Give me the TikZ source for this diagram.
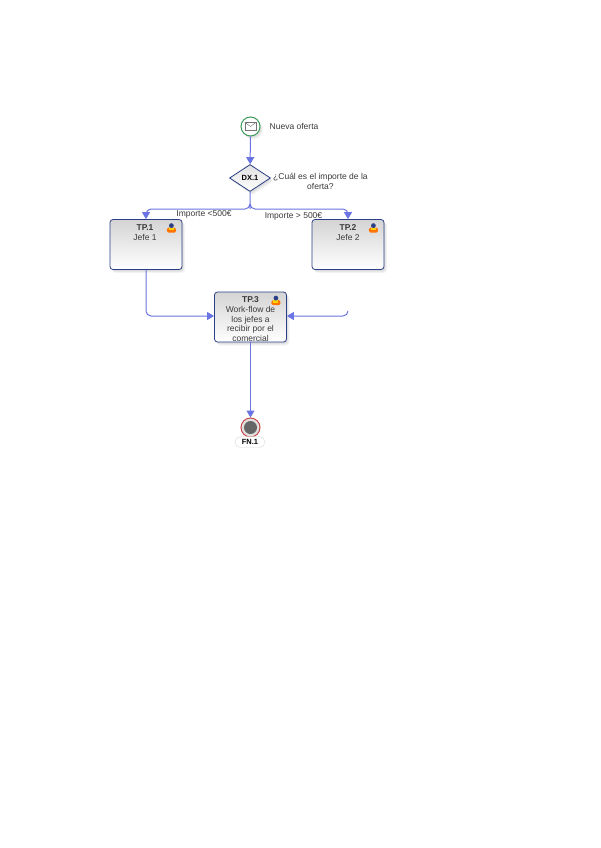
\documentclass[tikz,border=0pt]{standalone}
\usepackage{fontspec}
\setmainfont{Liberation Sans}
\usetikzlibrary{arrows.meta,positioning,shapes.geometric,calc,shadows,shadows.blur}
\definecolor{flowline}{HTML}{6A74E2}
\definecolor{boxedge}{HTML}{2B3F86}
\definecolor{boxtop}{HTML}{D4D4D4}
\definecolor{txtgray}{HTML}{3A3A3A}
\definecolor{startgreen}{HTML}{3A9A58}
\definecolor{endred}{HTML}{C84848}
\tikzset{
  softshadow/.style={
    general shadow={fill=black, opacity=0.05, shadow xshift=1pt, shadow yshift=-1.5pt},
    general shadow={fill=black, opacity=0.05, shadow xshift=2pt, shadow yshift=-2.5pt},
    general shadow={fill=black, opacity=0.04, shadow xshift=3pt, shadow yshift=-3.5pt}
  },
  taskbox/.style={
    rectangle, rounded corners=3pt, draw=boxedge, thick,
    top color=boxtop, bottom color=white, softshadow,
    minimum width=#1, minimum height=50pt, inner sep=0pt
  },
  taskbox/.default=72pt,
  tasktext/.style={
    font=\fontsize{8.5}{9.9}\selectfont, text=txtgray, align=center, inner sep=0pt
  },
  flowarrow/.style={
    -{Triangle[length=7pt,width=8pt]}, line width=1pt, color=flowline,
    rounded corners=5pt
  },
  labelnode/.style={
    font=\fontsize{8.5}{10}\selectfont, text=txtgray, align=center, inner sep=0pt
  },
  startevent/.style={
    circle, draw=startgreen, line width=1pt, fill=white, minimum size=19pt,
    inner sep=0pt, softshadow
  },
  endevent/.style={
    circle, draw=endred, line width=1pt, fill=black!12, minimum size=19pt,
    inner sep=0pt
  },
  decision/.style={
    diamond, aspect=1.5, draw=boxedge, thick, top color=boxtop!70, bottom color=white,
    minimum width=41pt, minimum height=27pt, inner sep=0pt,
    font=\fontsize{7.5}{9}\selectfont\bfseries, softshadow
  },
}
% small person mark in the corner of a task
\newcommand{\personmark}[1]{
  \fill[orange!90!red, rounded corners=1.5pt] ($(#1)+(-4.5,-0.5)$) rectangle ($(#1)+(4.5,4.5)$);
  \fill[yellow!70!orange] ($(#1)+(-2.5,-0.5)$) rectangle ($(#1)+(2.5,2)$);
  \fill[boxedge] ($(#1)+(0,-2.5)$) circle (2.4pt);
}
\begin{document}
\begin{tikzpicture}[x=1pt,y=-1pt]
  \useasboundingbox[fill=white] (0,0) rectangle (600,848);

  % Start event and gateway
  \node[startevent] (start) at (250.5,126.5) {};
  \node[draw=black!55, fill=white, minimum width=11pt, minimum height=8pt, inner sep=0pt] (mail) at (start) {};
  \draw[black!55, line width=0.4pt] (mail.north west) -- (mail.center) -- (mail.north east);
  \node[labelnode, right=9pt of start] (startlabel) {Nueva oferta};
  \node[decision] (dx) at (250,178) {DX.1};
  \node[labelnode, anchor=west] (dxlabel) at (273,181) {¿Cuál es el importe de la\\oferta?};

  % Tasks
  \node[taskbox] (tp1) at (146,244.5) {};
  \node[taskbox] (tp2) at (348,244.5) {};
  \node[taskbox] (tp3) at (250.5,317) {};
  \node[tasktext, anchor=north] (tp1text) at ([xshift=-1pt,yshift=-5.5pt]tp1.north) {\textbf{TP.1}\\Jefe 1};
  \node[tasktext, anchor=north] (tp2text) at ([yshift=-5.5pt]tp2.north) {\textbf{TP.2}\\Jefe 2};
  \begin{scope}
    \clip ([xshift=1pt,yshift=1pt]tp3.north west) rectangle ([xshift=-1pt,yshift=-0.5pt]tp3.south east);
    \node[tasktext, anchor=north] (tp3text) at ([yshift=-4.5pt]tp3.north) {\textbf{TP.3}\\Work-flow de\\los jefes a\\recibir por el\\comercial};
  \end{scope}
  \foreach \t in {tp1,tp2,tp3} {
    \personmark{$(\t.north east)+(-11,9)$}
  }

  % End event
  \node[endevent] (fin) at (250.5,427.5) {};
  \node[circle, fill=black!60, minimum size=13pt, inner sep=0pt] (fincore) at (fin) {};
  \node[rectangle, rounded corners=5.5pt, fill=white, draw=black!15, minimum width=30pt, minimum height=11pt,
    inner sep=0pt, font=\fontsize{7.5}{9}\selectfont\bfseries] (finlabel) at (250,442) {FN.1};

  % Connectors
  \coordinate (split) at (250,204);
  \coordinate (tp2free) at (348,311);
  \draw[flowarrow] (start) -- (dx);
  \draw[flowarrow] (dx.south) -- (split) -- (250,209) -- (146,209) -- (tp1.north);
  \draw[flowarrow] (split) -- (250,209) -- (348,209) -- (tp2.north);
  \node[labelnode] (lowlabel) at (204,214.5) {Importe <500€};
  \node[labelnode] (highlabel) at (293.5,216) {Importe > 500€};
  \draw[flowarrow] (tp1.south) -- (146,316) -- (tp3.west |- 0,316);
  \draw[flowarrow] (tp2free) -- (348,316) -- (tp3.east |- 0,316);
  \draw[flowarrow] (tp3.south) -- (fin.north);
\end{tikzpicture}
\end{document}
